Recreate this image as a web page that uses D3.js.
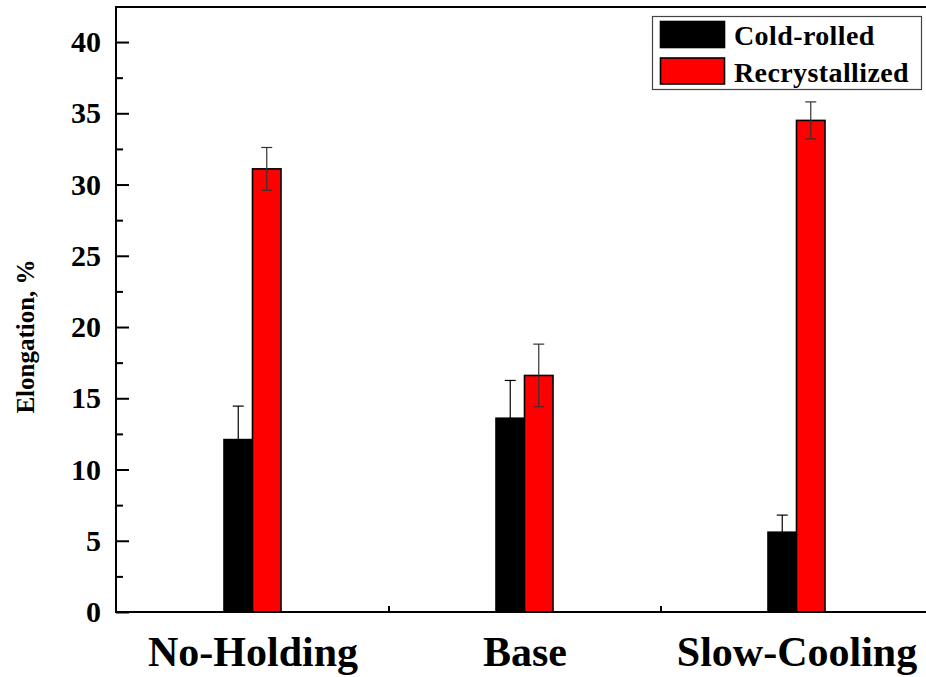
<!DOCTYPE html>
<html>
<head>
<meta charset="utf-8">
<script src="https://cdn.jsdelivr.net/npm/d3@7"></script>
<style>
  html, body { margin: 0; padding: 0; background: #fff; }
  svg { display: block; }
  text { font-family: "Liberation Serif", "Times New Roman", serif; font-weight: bold; fill: #000; }
</style>
</head>
<body>
<svg id="chart" width="926" height="677"></svg>
<script>
// Elongation of the three processing routes, cold-rolled vs recrystallized
const categories = ["No-Holding", "Base", "Slow-Cooling"];
const seriesNames = ["Cold-rolled", "Recrystallized"];
const seriesColors = ["#000000", "#ff0000"];
const errorColors = ["#000000", "#333333"];
const coldRolled = [12.1, 13.6, 5.6];
const coldRolledErr = [2.35, 2.65, 1.2];
const recrystallized = [31.1, 16.6, 34.5];
const recrystallizedErr = [1.5, 2.2, 1.3];
const yMajorTicks = [0, 5, 10, 15, 20, 25, 30, 35, 40];
const yMinorTicks = [2.5, 7.5, 12.5, 17.5, 22.5, 27.5, 32.5, 37.5];

const svg = d3.select("#chart");
const plotLeft = 116, plotRight = 933, plotTop = 7, plotBottom = 612;

const y = d3.scaleLinear().domain([0, 42.46]).range([plotBottom, plotTop]);
const x = d3.scaleBand().domain(categories).range([plotLeft + 1, plotRight]).paddingInner(0).paddingOuter(0);
const xSub = d3.scaleBand().domain(seriesNames)
  .range([x.bandwidth() / 2 - 29, x.bandwidth() / 2 + 28]).padding(0);

const rows = categories.map((c, i) => ({
  category: c,
  values: [
    { name: seriesNames[0], value: coldRolled[i], err: coldRolledErr[i], color: seriesColors[0], errColor: errorColors[0] },
    { name: seriesNames[1], value: recrystallized[i], err: recrystallizedErr[i], color: seriesColors[1], errColor: errorColors[1] }
  ]
}));

// bars
const groups = svg.append("g").selectAll("g").data(rows).join("g")
  .attr("transform", d => `translate(${x(d.category)},0)`);

groups.selectAll("rect").data(d => d.values).join("rect")
  .attr("x", d => xSub(d.name))
  .attr("y", d => y(d.value))
  .attr("width", xSub.bandwidth())
  .attr("height", d => y(0) - y(d.value))
  .attr("fill", d => d.color)
  .attr("stroke", "#000")
  .attr("stroke-width", 1.6);

// error bars
const errG = groups.selectAll("g.err").data(d => d.values).join("g").attr("class", "err")
  .attr("stroke", d => d.errColor).attr("stroke-width", 1.2);
errG.append("line")
  .attr("x1", d => xSub(d.name) + xSub.bandwidth() / 2)
  .attr("x2", d => xSub(d.name) + xSub.bandwidth() / 2)
  .attr("y1", d => y(d.value - d.err))
  .attr("y2", d => y(d.value + d.err));
[1, -1].forEach(s => {
  errG.append("line")
    .attr("x1", d => xSub(d.name) + xSub.bandwidth() / 2 - 5.5)
    .attr("x2", d => xSub(d.name) + xSub.bandwidth() / 2 + 5.5)
    .attr("y1", d => y(d.value + s * d.err))
    .attr("y2", d => y(d.value + s * d.err));
});

// y axis: major ticks with labels, minor ticks, all pointing inward
const yAxis = svg.append("g").attr("transform", `translate(${plotLeft},0)`)
  .call(d3.axisLeft(y).tickValues(yMajorTicks).tickFormat(d3.format("d"))
    .tickSizeInner(-13).tickSizeOuter(0).tickPadding(15));
yAxis.select(".domain").remove();
yAxis.selectAll(".tick line").attr("stroke", "#000").attr("stroke-width", 2);
yAxis.selectAll(".tick text").style("font-size", "30px").attr("font-family", null);

const yMinor = svg.append("g").attr("transform", `translate(${plotLeft},0)`)
  .call(d3.axisLeft(y).tickValues(yMinorTicks).tickFormat("").tickSizeInner(-7).tickSizeOuter(0));
yMinor.select(".domain").remove();
yMinor.selectAll(".tick line").attr("stroke", "#000").attr("stroke-width", 2);

// x axis: category labels and boundary ticks
const xAxis = svg.append("g").attr("transform", `translate(0,${plotBottom})`)
  .call(d3.axisBottom(x).tickSize(0).tickPadding(24));
xAxis.select(".domain").remove();
xAxis.selectAll(".tick text").style("font-size", "42px").attr("font-family", null);

const boundaries = categories.slice(1).map(c => x(c));
svg.append("g").selectAll("line").data(boundaries).join("line")
  .attr("x1", d => d).attr("x2", d => d)
  .attr("y1", plotBottom).attr("y2", plotBottom - 6)
  .attr("stroke", "#000").attr("stroke-width", 2);

// frame lines
svg.append("line").attr("x1", plotLeft).attr("x2", plotRight).attr("y1", plotBottom).attr("y2", plotBottom)
  .attr("stroke", "#000").attr("stroke-width", 2);
svg.append("line").attr("x1", plotLeft).attr("x2", plotRight).attr("y1", plotTop).attr("y2", plotTop)
  .attr("stroke", "#000").attr("stroke-width", 2);
svg.append("line").attr("x1", plotLeft).attr("x2", plotLeft).attr("y1", plotTop - 1).attr("y2", plotBottom + 1)
  .attr("stroke", "#000").attr("stroke-width", 2);

// y axis title
svg.append("text")
  .attr("transform", `translate(34,${(plotTop + plotBottom) / 2 + 27}) rotate(-90)`)
  .attr("text-anchor", "middle")
  .style("font-size", "25px")
  .text("Elongation, %");

// legend
const legend = svg.append("g");
legend.append("rect").attr("x", 652.5).attr("y", 16.5).attr("width", 269).attr("height", 73)
  .attr("fill", "#fff").attr("stroke", "#444").attr("stroke-width", 1.2);
const items = legend.selectAll("g").data(seriesNames).join("g")
  .attr("transform", (d, i) => `translate(0,${i * 36.5})`);
items.append("rect").attr("x", 660.5).attr("y", 21.5).attr("width", 64).attr("height", 26)
  .attr("fill", (d, i) => seriesColors[i]).attr("stroke", "#000").attr("stroke-width", 1.6);
items.append("text").attr("x", 734).attr("y", 45)
  .style("font-size", "28px")
  .style("letter-spacing", "0.4px")
  .text(d => d);
</script>
</body>
</html>
